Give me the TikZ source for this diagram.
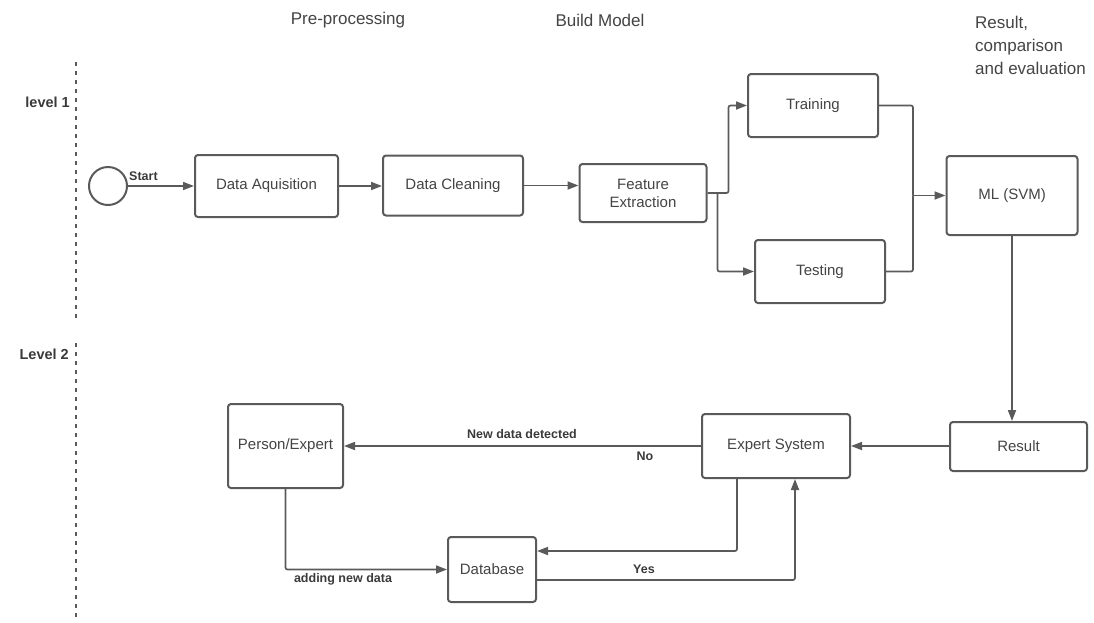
\documentclass[tikz,border=0pt]{standalone}
\usepackage{fontspec}
\setmainfont{Liberation Sans}
\usetikzlibrary{arrows.meta,calc}
\definecolor{linegray}{HTML}{5A5A5A}
\definecolor{txtgray}{HTML}{444444}
\definecolor{lblgray}{HTML}{3A3A3A}
\begin{document}
\begin{tikzpicture}[x=1pt,y=-1pt,
  box/.style={draw=linegray,line width=2pt,rounded corners=3pt,fill=white,text=txtgray,
    inner sep=0pt,align=center,font=\fontsize{15}{18}\selectfont},
  conn/.style={draw=linegray,line width=1.7pt,rounded corners=2pt},
  arr/.style={conn,-{Triangle[length=11pt,width=8pt]}},
  lbl/.style={text=lblgray,font=\bfseries\fontsize{12.5}{14}\selectfont,inner sep=0pt},
  lvl/.style={text=lblgray,font=\bfseries\fontsize{14.5}{16}\selectfont,inner sep=0pt},
  ttl/.style={text=txtgray,font=\fontsize{17}{23}\selectfont,inner sep=0pt},
  lane/.style={draw=linegray,line width=1.5pt,dash pattern=on 4pt off 5pt}]
\useasboundingbox (0,0) rectangle (1094,622);

% titles
\node[ttl] (t1) at (348,20) {Pre-processing};
\node[ttl] (t2) at (600,20) {Build Model};
\node[ttl,anchor=north west,align=left] (t3) at (975,16) {Result,\\comparison\\and evaluation};

% lanes
\coordinate (l1a) at (76,62); \coordinate (l1b) at (76,320);
\coordinate (l2a) at (76,343); \coordinate (l2b) at (76,620);
\draw[lane] (l1a) -- (l1b);
\draw[lane] (l2a) -- (l2b);
\node[lvl,anchor=east] (lv1) at (70,102) {level 1};
\node[lvl,anchor=east] (lv2) at (69,354) {Level 2};

% level 1 nodes
\node[circle,draw=linegray,line width=2pt,minimum size=38pt,inner sep=0pt] (st) at (108,186) {};
\node[lbl,anchor=west] (stl) at (129,176) {Start};
\node[box,minimum width=143pt,minimum height=62pt] (da) at (266.5,186) {Data Aquisition};
\node[box,minimum width=140pt,minimum height=60pt] (dc) at (453,185.5) {Data Cleaning};
\node[box,minimum width=127pt,minimum height=58pt] (fe) at (643,193) {Feature\\Extraction};
\node[box,minimum width=130pt,minimum height=63pt] (tr) at (813,105.5) {Training};
\node[box,minimum width=130pt,minimum height=63pt] (te) at (820,271.5) {Testing};
\node[box,minimum width=131pt,minimum height=79pt] (ml) at (1012,195.5) {ML (SVM)};

% level 2 nodes
\node[box,minimum width=137pt,minimum height=49pt] (res) at (1018.5,446.5) {Result};
\node[box,minimum width=148pt,minimum height=64pt] (es) at (776,446) {Expert System};
\node[box,minimum width=115pt,minimum height=84pt] (pe) at (285.5,446) {Person/Expert};
\node[box,minimum width=88pt,minimum height=65pt] (db) at (492,569.5) {Database};

% connectors level 1
\draw[arr] (st) -- (da);
\draw[arr] (da.east) -- (dc.west |- da.east);
\draw[arr] (dc.east) -- (fe.west |- dc.east);
\draw[arr] (fe.east) -- ++(21,0) |- (tr.west);
\draw[arr] ($(fe.east)+(10,0)$) |- (te.west);
\coordinate (j) at (913,195.5);
\draw[conn] (tr.east) -| (j);
\draw[conn] (te.east) -| (j);
\draw[arr] (j) -- (ml.west);
\draw[arr] (ml.south) -- (ml.south |- res.north);

% connectors level 2
\draw[arr] (res.west |- es.east) -- (es.east);
\draw[arr] (es.west) -- (pe.east);
\node[lbl] (ndd) at (522,434) {New data detected};
\node[lbl] (no) at (645,456) {No};
\draw[arr] (pe.south) |- (db.west);
\node[lbl] (add) at (343,579) {adding new data};
\draw[arr] ($(es.south)+(-39,0)$) |- ($(db.east)+(0,-18.5)$);
\draw[arr] ($(db.east)+(0,10.5)$) -| ($(es.south)+(19,0)$);
\node[lbl] (yes) at (644,569) {Yes};
\end{tikzpicture}
\end{document}
